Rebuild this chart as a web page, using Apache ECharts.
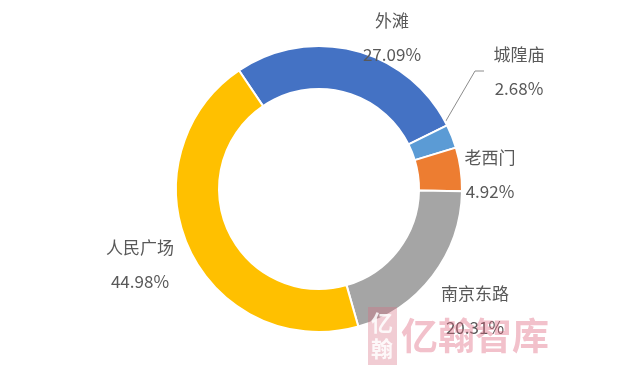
<!DOCTYPE html>
<html>
<head>
<meta charset="utf-8">
<script src="https://cdn.jsdelivr.net/npm/echarts@6/dist/echarts.min.js"></script>
<style>
html,body{margin:0;padding:0;background:#fff;}
#chart{width:640px;height:382px;}
</style>
</head>
<body>
<div id="chart"></div>
<script>
const categories = ['外滩', '城隍庙', '老西门', '南京东路', '人民广场'];
const values = [27.09, 2.68, 4.92, 20.31, 44.98];
const colors = ['#4472C4', '#5B9BD5', '#ED7D31', '#A5A5A5', '#FFC000'];
// label anchor positions (layout only)
const labelPos = [[392, 38], [519, 72], [490, 175], [475, 311], [140, 265]];

const chart = echarts.init(document.getElementById('chart'));
const data = categories.map((c, i) => ({
  name: c,
  value: values[i],
  itemStyle: { color: colors[i] },
  labelLine: { show: i === 1, lineStyle: { color: '#8c8c8c', width: 1 } }
}));

chart.setOption({
  animation: false,
  backgroundColor: '#fff',
  series: [{
    type: 'pie',
    center: [319, 189],
    radius: [100, 143],
    startAngle: 124,
    clockwise: true,
    data: data,
    itemStyle: { borderColor: '#fff', borderWidth: 2 },
    label: {
      show: true,
      position: 'outside',
      formatter: p => p.name + '\n' + p.value.toFixed(2) + '%',
      fontSize: 17,
      lineHeight: 34,
      color: '#595959',
      fontFamily: '"Noto Sans CJK SC", "Noto Sans", sans-serif',
      align: 'center'
    },
    labelLine: { show: false },
    labelLayout: function (params) {
      const i = params.dataIndex;
      const res = {
        x: labelPos[i][0],
        y: labelPos[i][1],
        align: 'center',
        verticalAlign: 'middle'
      };
      if (i === 1) {
        res.labelLinePoints = [[433, 143], [475, 71], [484, 71]];
      }
      return res;
    }
  }],
  graphic: [
    {
      type: 'rect',
      shape: { x: 368, y: 307, width: 29, height: 58 },
      style: { fill: 'rgba(214, 110, 130, 0.35)' },
      z: 100
    },
    {
      type: 'text',
      style: {
        x: 382, y: 336,
        text: '亿\n翰',
        fill: 'rgba(255,255,255,0.85)',
        font: 'bold 22px "Noto Sans CJK SC"',
        lineHeight: 26,
        align: 'center',
        verticalAlign: 'middle'
      },
      z: 101
    },
    {
      type: 'text',
      style: {
        x: 475, y: 336,
        text: '亿翰智库',
        fill: 'rgba(222, 100, 125, 0.4)',
        font: 'bold 37px "Noto Sans CJK SC"',
        align: 'center',
        verticalAlign: 'middle'
      },
      z: 100
    }
  ]
});
</script>
</body>
</html>
